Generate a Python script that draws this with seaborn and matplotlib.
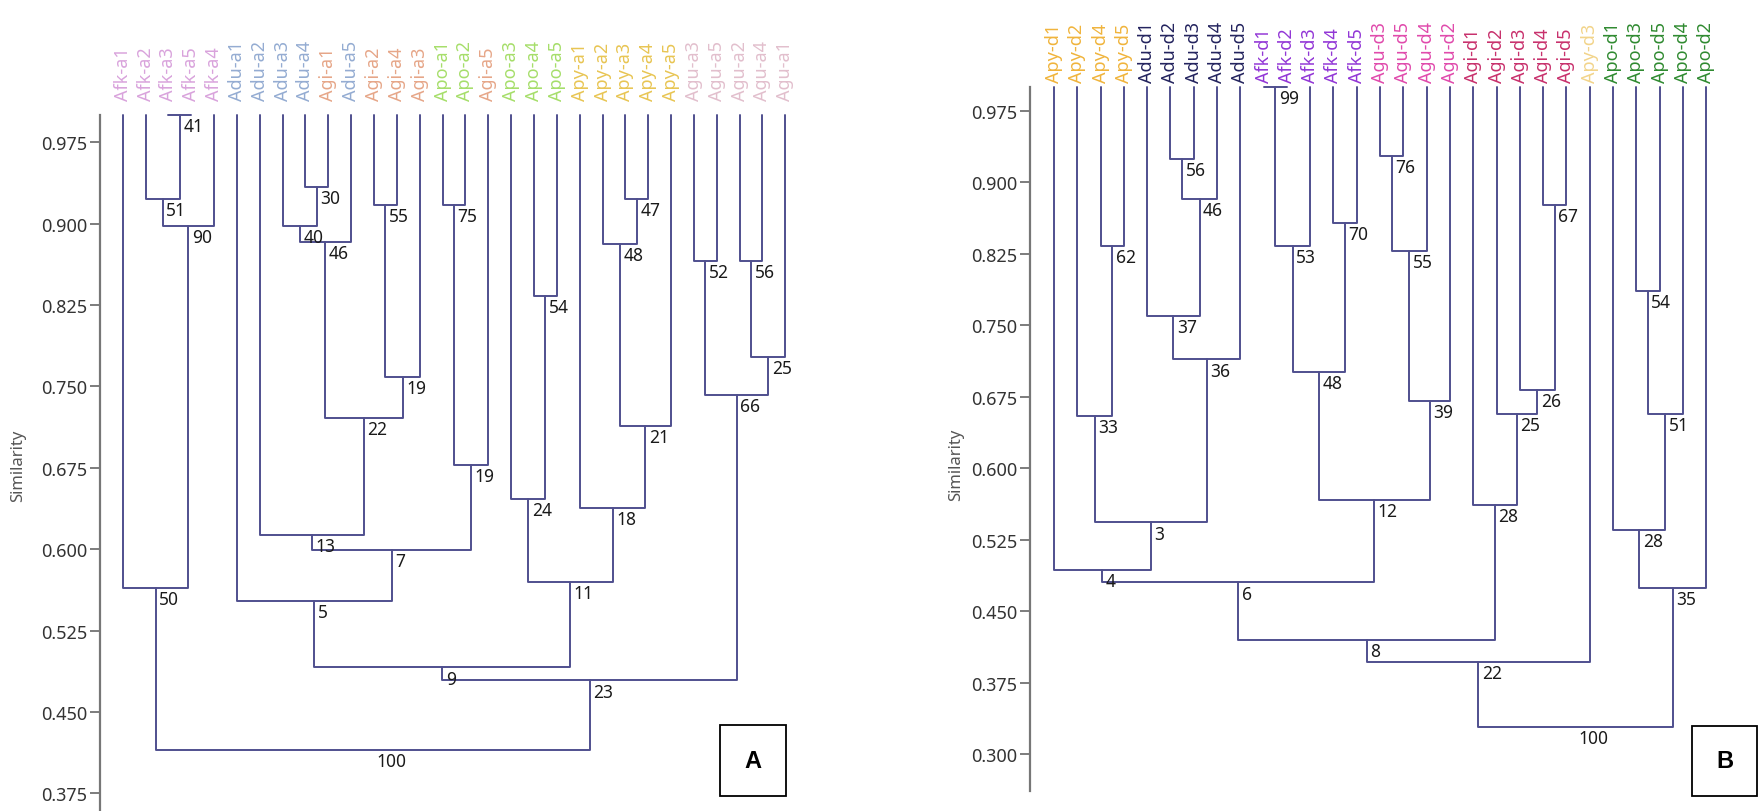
import matplotlib
matplotlib.use("Agg")

import matplotlib.pyplot as plt
import pandas as pd
import seaborn as sns
from matplotlib.patches import Rectangle

# --- DATA ---

# panel A: leaf order and merges (node ids: leaves 0..29, then 30+k for merge k)
leaves_a = ["Afk-a1", "Afk-a2", "Afk-a3", "Afk-a5", "Afk-a4", "Adu-a1", "Adu-a2",
            "Adu-a3", "Adu-a4", "Agi-a1", "Adu-a5", "Agi-a2", "Agi-a4", "Agi-a3",
            "Apo-a1", "Apo-a2", "Agi-a5", "Apo-a3", "Apo-a4", "Apo-a5", "Apy-a1",
            "Apy-a2", "Apy-a3", "Apy-a4", "Apy-a5", "Agu-a3", "Agu-a5", "Agu-a2",
            "Agu-a4", "Agu-a1"]
merge_a_left = [2, 1, 31, 0, 8, 7, 35, 11, 37, 36, 6, 14, 41, 40, 5,
                18, 17, 22, 21, 48, 20, 46, 44, 25, 27, 54, 53, 52, 33]
merge_a_right = [3, 30, 4, 32, 9, 34, 10, 12, 13, 38, 39, 15, 16, 42, 43,
                 19, 45, 23, 47, 24, 49, 50, 51, 26, 28, 29, 55, 56, 57]
merge_a_height = [1.000, 0.923, 0.898, 0.564, 0.934, 0.898, 0.883, 0.917, 0.759,
                  0.721, 0.613, 0.917, 0.678, 0.599, 0.552, 0.833, 0.646, 0.923,
                  0.881, 0.714, 0.638, 0.570, 0.491, 0.866, 0.866, 0.777, 0.742,
                  0.479, 0.415]
merge_a_support = [41, 51, 90, 50, 30, 40, 46, 55, 19, 22, 13, 75, 19, 7, 5,
                   54, 24, 47, 48, 21, 18, 11, 9, 52, 56, 25, 66, 23, 100]
ticks_a = [0.375, 0.450, 0.525, 0.600, 0.675, 0.750, 0.825, 0.900, 0.975]

# panel B
leaves_b = ["Apy-d1", "Apy-d2", "Apy-d4", "Apy-d5", "Adu-d1", "Adu-d2", "Adu-d3",
            "Adu-d4", "Adu-d5", "Afk-d1", "Afk-d2", "Afk-d3", "Afk-d4", "Afk-d5",
            "Agu-d3", "Agu-d5", "Agu-d4", "Agu-d2", "Agi-d1", "Agi-d2", "Agi-d3",
            "Agi-d4", "Agi-d5", "Apy-d3", "Apo-d1", "Apo-d3", "Apo-d5", "Apo-d4",
            "Apo-d2"]
merge_b_left = [2, 1, 5, 31, 4, 33, 30, 0, 9, 37, 12, 38, 14, 41, 42,
                40, 36, 21, 20, 19, 18, 45, 50, 25, 52, 24, 54, 51]
merge_b_right = [3, 29, 6, 7, 32, 8, 34, 35, 10, 11, 13, 39, 15, 16, 17,
                 43, 44, 22, 46, 47, 48, 49, 23, 26, 27, 53, 28, 55]
merge_b_height = [0.833, 0.655, 0.924, 0.882, 0.760, 0.714, 0.543, 0.493, 1.000,
                  0.833, 0.857, 0.701, 0.928, 0.828, 0.670, 0.567, 0.480, 0.876,
                  0.682, 0.657, 0.561, 0.420, 0.397, 0.786, 0.657, 0.535, 0.474,
                  0.328]
merge_b_support = [62, 33, 56, 46, 37, 36, 3, 4, 99, 53, 70, 48, 76, 55, 39,
                   12, 6, 67, 26, 25, 28, 8, 22, 54, 51, 28, 35, 100]
ticks_b = [0.300, 0.375, 0.450, 0.525, 0.600, 0.675, 0.750, 0.825, 0.900, 0.975]

colors_a = {"Afk": "#d9a3dc", "Adu": "#94acd2", "Agi": "#e6a688",
            "Apo": "#a6de6a", "Apy": "#e8c553", "Agu": "#e2bfcd"}
colors_b = {"Apy": "#f0b43c", "Adu": "#23235e", "Afk": "#9236d6",
            "Agu": "#e04aac", "Agi": "#c8306c", "Apo": "#2f8a30"}
color_override_b = {"Apy-d3": "#f2d48a"}

LINE = "#4f4f8e"
FONT = ["Noto Sans", "DejaVu Sans"]


def tree_segments(n, left, right, height, top=1.0):
    xpos = [float(i) for i in range(n)]
    hpos = [top] * n
    rows = []
    for k, (l, r, h) in enumerate(zip(left, right, height)):
        xl, xr = xpos[l], xpos[r]
        rows += [(k, xl, hpos[l]), (k, xl, h), (k, xr, h), (k, xr, hpos[r])]
        xpos.append((xl + xr) / 2)
        hpos.append(h)
    return pd.DataFrame(rows, columns=["seg", "x", "y"]), xpos


def draw_panel(ax, leaves, left, right, height, support, ticks, colors,
               override, label_gap, label_size):
    n = len(leaves)
    seg_df, xpos = tree_segments(n, left, right, height)
    sns.lineplot(data=seg_df, x="x", y="y", units="seg", estimator=None,
                 sort=False, color=LINE, lw=1.4, ax=ax, legend=False)
    for ln in ax.lines:
        ln.set_clip_on(False)

    # bootstrap values next to each node
    for k, s in enumerate(support):
        ax.annotate(str(s), xy=(xpos[n + k], height[k]), xytext=(2.5, -1.5),
                    textcoords="offset points", ha="left", va="top",
                    fontsize=12.5, color="#1a1a1a", family=FONT)

    # leaf labels on top
    for i, lab in enumerate(leaves):
        c = override.get(lab, colors[lab[:3]])
        ax.annotate(lab, xy=(i, 1.0), xycoords=("data", "axes fraction"),
                    xytext=(0, label_gap), textcoords="offset points",
                    rotation=90, ha="center", va="bottom", fontsize=label_size,
                    color=c, family=FONT)

    ax.set_yticks(ticks)
    ax.set_yticklabels([f"{t:.3f}" for t in ticks])
    ax.set_xticks([])
    ax.set_xlabel("")
    ax.set_ylabel("")
    for side in ["top", "right", "bottom"]:
        ax.spines[side].set_visible(False)
    ax.spines["left"].set_color("#777777")
    ax.spines["left"].set_linewidth(1.6)
    ax.tick_params(axis="y", left=True, length=7, width=1.2, color="#666666",
                   pad=2, labelsize=13, labelcolor="#333333")
    for t in ax.get_yticklabels():
        t.set_family(FONT)


sns.set_theme(style="white")
plt.rcParams["font.family"] = FONT

W, H = 1760, 812
fig = plt.figure(figsize=(W / 100, H / 100), dpi=100)

# panel A axes
a_top, a_bot = 116.2, 812.0
ax_a = fig.add_axes([100 / W, 1 - a_bot / H, 700 / W, (a_bot - a_top) / H])
ax_a.set_xlim(-0.993, (800 - 122.7) / 22.85)
ax_a.set_ylim(0.3587, 1.0)
draw_panel(ax_a, leaves_a, merge_a_left, merge_a_right, merge_a_height,
           merge_a_support, ticks_a, colors_a, {}, 11, 13)

# panel B axes
b_top, b_bot = 87.9, 791.7
ax_b = fig.add_axes([1030 / W, 1 - b_bot / H, 720 / W, (b_bot - b_top) / H])
ax_b.set_xlim(-1.03, (1750 - 1054) / 23.29)
ax_b.set_ylim(0.2615, 1.0)
draw_panel(ax_b, leaves_b, merge_b_left, merge_b_right, merge_b_height,
           merge_b_support, ticks_b, colors_b, color_override_b, 3.5, 13)

fig.text(18 / W, 1 - 466 / H, "Similarity", rotation=90, ha="center",
         va="center", fontsize=12, color="#555555")
fig.text(956 / W, 1 - 465 / H, "Similarity", rotation=90, ha="center",
         va="center", fontsize=12, color="#555555")

# panel letters in boxes
for (x0, y0, x1, y1), letter in [((720, 726, 786, 797), "A"),
                                 ((1692, 727, 1757, 797), "B")]:
    fig.patches.append(Rectangle((x0 / W, 1 - y1 / H), (x1 - x0) / W,
                                 (y1 - y0) / H, transform=fig.transFigure,
                                 fill=True, facecolor="white",
                                 edgecolor="black", lw=1.3))
    fig.text((x0 + x1) / 2 / W, 1 - (y0 + y1) / 2 / H, letter, ha="center",
             va="center", fontsize=17, fontweight="bold", color="black",
             family=["Liberation Sans", "DejaVu Sans"])

fig.savefig("out.png", dpi=100)
